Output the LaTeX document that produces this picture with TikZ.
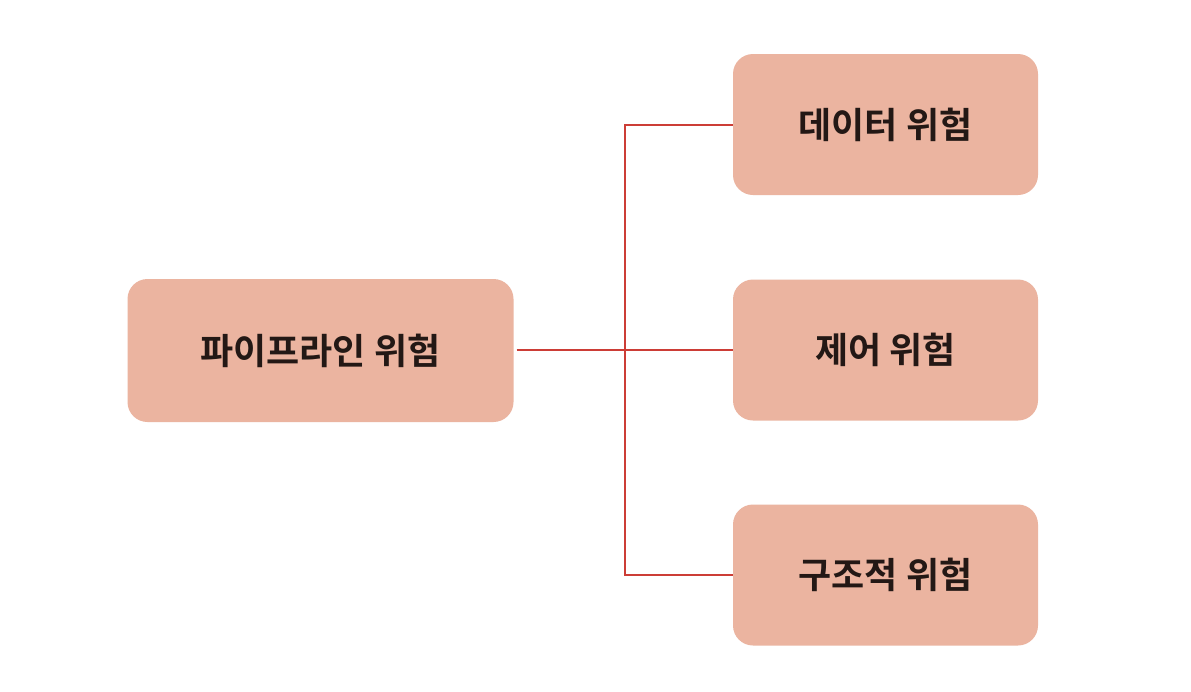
\documentclass[tikz,border=0pt]{standalone}
\usepackage{fontspec}
\newfontfamily\kr{Noto Sans CJK KR Bold}
\definecolor{boxfill}{HTML}{EBB4A0}
\definecolor{linered}{HTML}{CC3D36}
\definecolor{txt}{HTML}{231815}
\begin{document}
\begin{tikzpicture}[x=1pt,y=-1pt,
  riskbox/.style={draw=none,fill=boxfill,rounded corners=20pt,inner sep=0pt,
    font=\kr\fontsize{36}{40}\selectfont,text=txt},
  conn/.style={draw=linered,line width=2pt}]
\fill[white] (0,0) rectangle (1191,691);
\node[riskbox,minimum width=386pt,minimum height=143pt] (pipe) at (320.5,350.5) {파이프라인 위험};
\node[riskbox,minimum width=305pt,minimum height=141pt] (data) at (885.5,124.5) {데이터 위험};
\node[riskbox,minimum width=305pt,minimum height=141pt] (ctrl) at (885.5,350) {제어 위험};
\node[riskbox,minimum width=305pt,minimum height=141pt] (struct) at (885.5,575) {구조적 위험};
\coordinate (j) at (625,350);
\draw[conn] ([xshift=3pt]pipe.east |- ctrl.west) -- (ctrl.west);
\draw[conn] (data.west) -- (j |- data.west) -- (j |- struct.west) -- (struct.west);
\end{tikzpicture}
\end{document}
